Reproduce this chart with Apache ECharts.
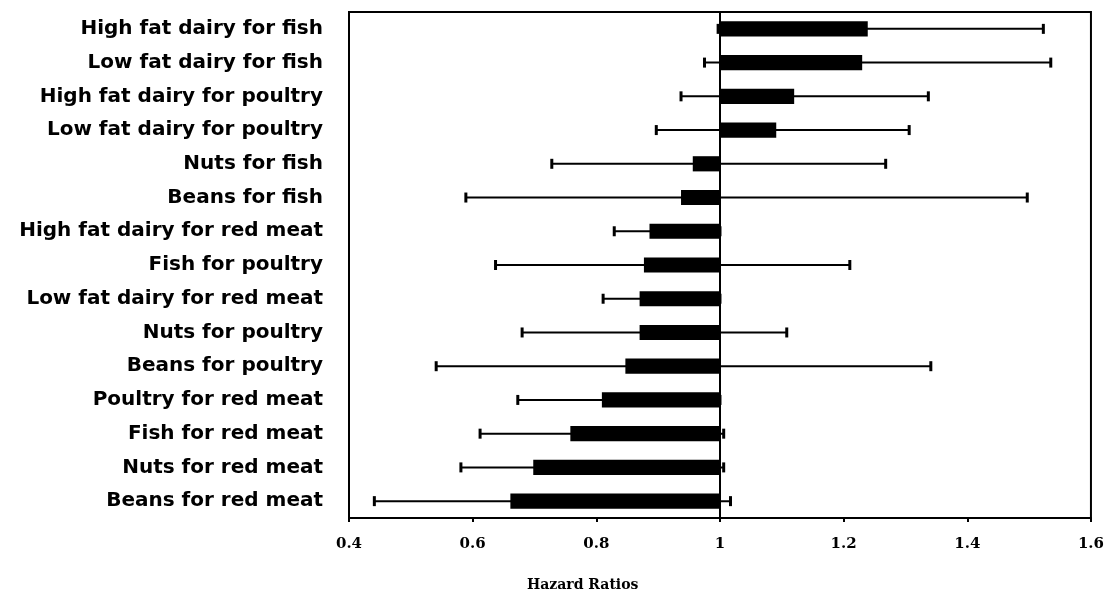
<!DOCTYPE html>
<html>
<head>
<meta charset="utf-8">
<script src="https://cdn.jsdelivr.net/npm/echarts@6/dist/echarts.min.js"></script>
<style>
html,body{margin:0;padding:0;background:#fff;}
#chart{width:1107px;height:593px;}
</style>
</head>
<body>
<div id="chart"></div>
<script>
const categories = [
  "High fat dairy for fish",
  "Low fat dairy for fish",
  "High fat dairy for poultry",
  "Low fat dairy for poultry",
  "Nuts for fish",
  "Beans for fish",
  "High fat dairy for red meat",
  "Fish for poultry",
  "Low fat dairy for red meat",
  "Nuts for poultry",
  "Beans for poultry",
  "Poultry for red meat",
  "Fish for red meat",
  "Nuts for red meat",
  "Beans for red meat"
];
const hazardRatio = [1.239, 1.230, 1.120, 1.091, 0.956, 0.937, 0.886, 0.877, 0.870, 0.870, 0.847, 0.809, 0.758, 0.698, 0.661];
const lowerCI     = [0.997, 0.975, 0.937, 0.897, 0.728, 0.589, 0.829, 0.637, 0.811, 0.680, 0.541, 0.673, 0.612, 0.581, 0.441];
const upperCI     = [1.523, 1.535, 1.337, 1.306, 1.268, 1.497, 1.000, 1.210, 1.000, 1.108, 1.341, 1.000, 1.006, 1.006, 1.017];
const xTicks = [0.4, 0.6, 0.8, 1, 1.2, 1.4, 1.6];
const referenceValue = 1;
const xTitle = "Hazard Ratios";

const data = categories.map((c, i) => [i, hazardRatio[i], lowerCI[i], upperCI[i]]);

const chart = echarts.init(document.getElementById('chart'));
chart.setOption({
  animation: false,
  backgroundColor: '#fff',
  grid: { left: 349, right: 12, top: 12, bottom: 75, show: true, borderColor: '#000', borderWidth: 2, backgroundColor: 'transparent' },
  xAxis: {
    type: 'value',
    min: xTicks[0],
    max: xTicks[xTicks.length - 1],
    interval: 0.2,
    splitLine: { show: false },
    axisLine: { show: true, lineStyle: { color: '#000', width: 2 } },
    axisTick: { show: true, length: 4, lineStyle: { color: '#000', width: 2 } },
    axisLabel: {
      margin: 19,
      color: '#000',
      fontFamily: 'DejaVu Serif',
      fontWeight: 'bold',
      fontSize: 15,
      formatter: v => String(Math.round(v * 10) / 10)
    }
  },
  yAxis: {
    type: 'category',
    data: categories,
    inverse: true,
    axisLine: { show: true, lineStyle: { color: '#000', width: 2 } },
    axisTick: { show: false },
    axisLabel: {
      margin: 26,
      color: '#000',
      fontFamily: 'DejaVu Sans',
      fontWeight: 'bold',
      fontSize: 20
    }
  },
  graphic: [{
    type: 'text',
    left: 527,
    top: 578,
    style: { text: xTitle, fill: '#000', font: 'bold 14px "DejaVu Serif"' }
  }],
  series: [{
    type: 'custom',
    data: data,
    encode: { y: 0, x: [1, 2, 3] },
    renderItem: function (params, api) {
      const y = api.value(0);
      const base = api.coord([referenceValue, y]);
      const end = api.coord([api.value(1), y]);
      const lo = api.coord([api.value(2), y]);
      const hi = api.coord([api.value(3), y]);
      const band = api.size([0, 1])[1];
      const bh = band * 0.45;
      const ch = 10;
      return {
        type: 'group',
        children: [
          { type: 'rect', shape: { x: Math.min(base[0], end[0]), y: base[1] - bh / 2, width: Math.abs(end[0] - base[0]), height: bh }, style: { fill: '#000' } },
          { type: 'line', shape: { x1: lo[0], y1: lo[1], x2: hi[0], y2: hi[1] }, style: { stroke: '#000', lineWidth: 2 } },
          { type: 'line', shape: { x1: lo[0], y1: lo[1] - ch / 2, x2: lo[0], y2: lo[1] + ch / 2 }, style: { stroke: '#000', lineWidth: 3 } },
          { type: 'line', shape: { x1: hi[0], y1: hi[1] - ch / 2, x2: hi[0], y2: hi[1] + ch / 2 }, style: { stroke: '#000', lineWidth: 3 } }
        ]
      };
    },
    markLine: {
      silent: true,
      symbol: 'none',
      label: { show: false },
      lineStyle: { color: '#000', width: 2, type: 'solid' },
      data: [{ xAxis: referenceValue }]
    }
  }]
});
</script>
</body>
</html>
